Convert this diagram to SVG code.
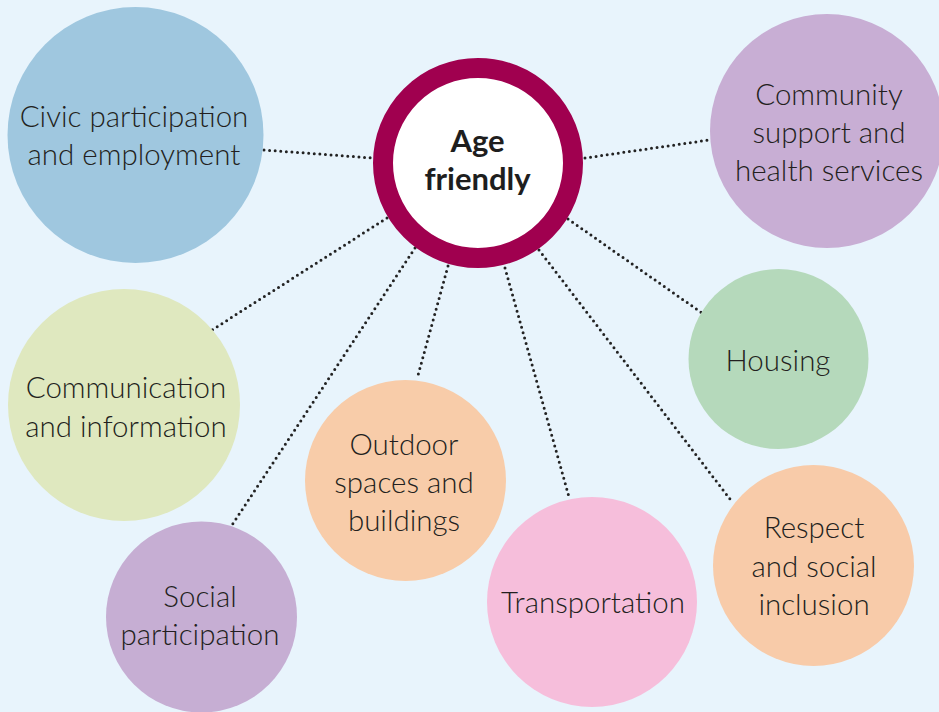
<svg xmlns="http://www.w3.org/2000/svg" width="939" height="712" viewBox="0 0 939 712">
<style>
.bg{fill:#e8f4fc}
.t{font-family:Lato,"Liberation Sans",sans-serif;font-weight:300;font-size:29.5px;fill:#231f20;text-anchor:middle}
.hub{font-family:Lato,"Liberation Sans",sans-serif;font-weight:700;font-size:31px;fill:#1e1e1e;text-anchor:middle}
.c line{stroke:#222;stroke-width:3;stroke-linecap:round;stroke-dasharray:0 5.6;fill:none}
</style>
<rect class="bg" x="0" y="0" width="939" height="712"/>
<g id="connectors" class="c">
<line x1="264" y1="150" x2="373" y2="158"/>
<line x1="585" y1="158" x2="709" y2="140"/>
<line x1="387" y1="218" x2="212" y2="330"/>
<line x1="415" y1="248" x2="232" y2="525"/>
<line x1="448" y1="266" x2="417" y2="379"/>
<line x1="505" y1="268" x2="569" y2="497"/>
<line x1="539" y1="250" x2="733" y2="503"/>
<line x1="568" y1="219" x2="702" y2="313"/>
</g>
<g id="civic"><circle cx="135.5" cy="135" r="128" fill="#9fc7df"/><text class="t" x="134" y="127">Civic participation</text><text class="t" x="134" y="165">and employment</text></g>
<g id="community"><circle cx="827" cy="131" r="117" fill="#c8aed4"/><text class="t" x="829" y="105">Community</text><text class="t" x="829" y="143">support and</text><text class="t" x="829" y="181">health services</text></g>
<g id="housing"><circle cx="778.5" cy="359" r="90" fill="#b5d9bb"/><text class="t" x="778" y="371">Housing</text></g>
<g id="communication"><circle cx="124" cy="405" r="116" fill="#dfe8bf"/><text class="t" x="126" y="398">Communication</text><text class="t" x="126" y="437">and information</text></g>
<g id="outdoor"><circle cx="405.5" cy="480.5" r="100.5" fill="#f8cca9"/><text class="t" x="404" y="455">Outdoor</text><text class="t" x="404" y="493">spaces and</text><text class="t" x="404" y="531">buildings</text></g>
<g id="social"><circle cx="201.5" cy="617" r="95.5" fill="#c6aed3"/><text class="t" x="200" y="607">Social</text><text class="t" x="200" y="645">participation</text></g>
<g id="transportation"><circle cx="592" cy="602" r="105" fill="#f6bedb"/><text class="t" x="593" y="613">Transportation</text></g>
<g id="respect"><circle cx="813.5" cy="565.5" r="100.5" fill="#f8cba9"/><text class="t" x="814" y="538">Respect</text><text class="t" x="814" y="577">and social</text><text class="t" x="814" y="615">inclusion</text></g>
<g id="age-friendly"><circle cx="478" cy="163" r="95" fill="#ffffff" stroke="#a0004f" stroke-width="20"/><text class="hub" x="477.5" y="152">Age</text><text class="hub" x="477.5" y="190">friendly</text></g>
</svg>
